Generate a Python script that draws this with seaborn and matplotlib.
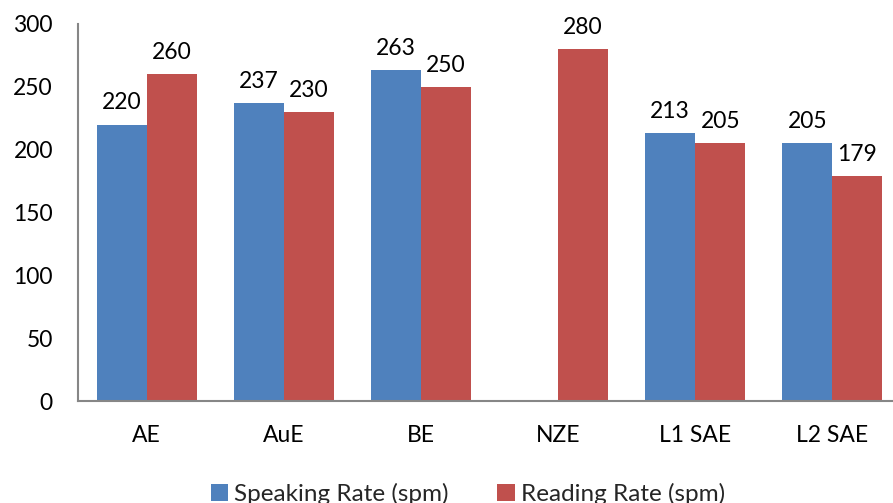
import matplotlib
matplotlib.use("Agg")
import matplotlib.pyplot as plt
import seaborn as sns
import pandas as pd
import numpy as np

categories = ["AE", "AuE", "BE", "NZE", "L1 SAE", "L2 SAE"]
speaking_rate = [220, 237, 263, np.nan, 213, 205]
reading_rate = [260, 230, 250, 280, 205, 179]
series_names = ["Speaking Rate (spm)", "Reading Rate (spm)"]
colors = ["#4F81BD", "#C0504D"]
y_ticks = [0, 50, 100, 150, 200, 250, 300]

df = pd.DataFrame({
    "category": categories * 2,
    "series": [series_names[0]] * len(categories) + [series_names[1]] * len(categories),
    "value": speaking_rate + reading_rate,
})

sns.set_theme(style="white")
plt.rcParams["font.family"] = ["Lato", "DejaVu Sans"]
FS = 16.5

fig = plt.figure(figsize=(8.93, 5.03), dpi=100)
ax = fig.add_axes([78 / 893, 1 - 401 / 503, 823 / 893, 377 / 503])

sns.barplot(data=df, x="category", y="value", hue="series", order=categories,
            hue_order=series_names, palette=colors, width=0.73, saturation=1,
            errorbar=None, ax=ax, edgecolor="none", linewidth=0)

for container in ax.containers:
    labels = ["" if np.isnan(v) else f"{v:.0f}" for v in container.datavalues]
    ax.bar_label(container, labels=labels, padding=8, fontsize=FS, color="black")

ax.set_xlim(-0.5, 5.5)
ax.set_ylim(0, 300)
ax.set_yticks(y_ticks)
ax.set_xlabel("")
ax.set_ylabel("")
ax.tick_params(axis="both", length=0, labelsize=FS, colors="black")
ax.tick_params(axis="x", pad=17)
ax.tick_params(axis="y", pad=18)

for side in ["top", "right"]:
    ax.spines[side].set_visible(False)
for side in ["left", "bottom"]:
    ax.spines[side].set_color("#868686")
    ax.spines[side].set_linewidth(1.5)

ax.legend(loc="upper center", bbox_to_anchor=(468 / 893, 42 / 503), bbox_transform=fig.transFigure,
          ncol=2, frameon=False, fontsize=17.5, handlelength=0.7, handleheight=0.7,
          handletextpad=0.25, columnspacing=2.0)

fig.savefig("out.png", dpi=100)
